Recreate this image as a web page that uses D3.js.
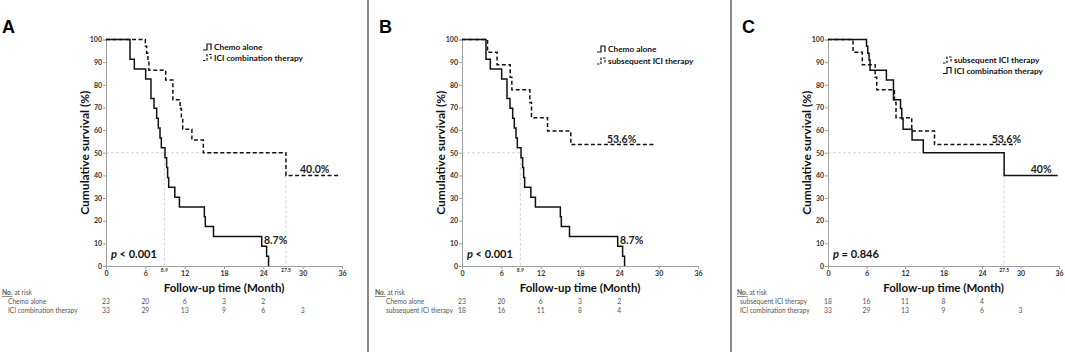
<!DOCTYPE html>
<html>
<head>
<meta charset="utf-8">
<script src="https://cdn.jsdelivr.net/npm/d3@7"></script>
<style>
  body { margin: 0; background: #fff; }
  svg { display: block; font-family: Lato, "Open Sans", sans-serif; }
</style>
</head>
<body>
<div id="chart"></div>
<script>
// --- data ---
const monthTicks = [0, 6, 12, 18, 24, 30, 36];
const survTicks = [0, 10, 20, 30, 40, 50, 60, 70, 80, 90, 100];

// Chemo alone (n = 23)
const chemoTime = [0, 3.66, 4.32, 6.05, 6.86, 7.32, 7.73, 7.98, 8.24, 8.44, 9.0, 9.25, 9.4, 9.56, 10.5, 11.2, 15.0, 15.15, 16.4, 23.75, 24.5, 24.8];
const chemoSurv = [100, 91.3, 87.0, 82.6, 73.9, 69.6, 65.2, 60.9, 56.5, 52.2, 47.8, 43.5, 39.1, 34.8, 30.4, 26.1, 21.7, 17.4, 13.0, 8.7, 4.3, 0];

// ICI combination therapy (n = 33)
const comboTime = [0, 6.0, 6.2, 6.4, 6.55, 9.1, 10.2, 11.3, 11.5, 11.7, 13.1, 14.85, 27.45, 35.8];
const comboSurv = [100, 97.0, 93.9, 90.9, 86.4, 82.1, 73.4, 69.5, 65.0, 60.4, 55.6, 50.0, 40.0, 40.0];

// subsequent ICI therapy (n = 18)
const subseqTime = [0, 3.9, 5.35, 7.35, 7.6, 10.35, 10.6, 13.05, 16.6, 29.3];
const subseqSurv = [100, 94.4, 88.9, 83.3, 77.8, 72.2, 65.5, 59.6, 53.6, 53.6];

// numbers at risk at 0, 6, 12, 18, 24, 30 months
const riskChemo = [23, 20, 6, 3, 2, null];
const riskCombo = [33, 29, 13, 9, 6, 3];
const riskSubseq = [18, 16, 11, 8, 4, null];

const panelLetters = ["A", "B", "C"];
const pValues = ["< 0.001", "< 0.001", "= 0.846"];

function zipCurve(t, s) { return t.map((d, i) => ({t: d, s: s[i]})); }

const chemo = {name: "Chemo alone", pts: zipCurve(chemoTime, chemoSurv), risk: riskChemo};
const combo = {name: "ICI combination therapy", pts: zipCurve(comboTime, comboSurv), risk: riskCombo};
const subseq = {name: "subsequent ICI therapy", pts: zipCurve(subseqTime, subseqSurv), risk: riskSubseq};

// layout per panel
const panels = [
  {letter: 0, lx: 2, x0: 106, x1: 342, curves: [[chemo, false], [combo, true]],
   medH: 27.45, medV: [[8.9, 50, "8.9"], [27.45, 40, "27.5"]],
   ends: [[chemo, "8.7%", 24.1, 8.7], [combo, "40.0%", 29.6, 40]],
   leg: {x: 203, y: 47, dy: 10.5}, tableX: 2, rowX: 8},
  {letter: 1, lx: 379, x0: 462, x1: 698, curves: [[chemo, false], [subseq, true]],
   medH: 8.9, medV: [[8.9, 50, "8.9"]],
   ends: [[chemo, "8.7%", 24.1, 8.7], [subseq, "53.6%", 22.1, 53.6]],
   leg: {x: 597, y: 49, dy: 12}, tableX: 375, rowX: 386},
  {letter: 2, lx: 742, x0: 828, x1: 1059, curves: [[subseq, true], [combo, false]],
   medH: 14.85, medV: [[27.45, 40, "27.5"]],
   ends: [[subseq, "53.6%", 25.5, 53.6], [combo, "40%", 31.6, 40]],
   leg: {x: 943, y: 60, dy: 10.5}, tableX: 737, rowX: 740}
];

const W = 1065, H = 354;
const yTop = 39.5, yBot = 266;

const svg = d3.select("#chart").append("svg")
  .attr("width", W)
  .attr("height", H);

// panel separators
[368, 731].forEach(x => {
  svg.append("line")
    .attr("x1", x).attr("x2", x)
    .attr("y1", 0).attr("y2", 352)
    .attr("stroke", "#8a8a8a")
    .attr("stroke-width", 2);
});

panels.forEach(p => {
  let g = svg.append("g");

  let x = d3.scaleLinear().domain([0, 36]).range([p.x0, p.x1]);
  let y = d3.scaleLinear().domain([0, 100]).range([yBot, yTop]);

  // panel letter
  g.append("text")
    .attr("x", p.lx).attr("y", 33)
    .style("font-family", "Liberation Sans, Arial, sans-serif")
    .style("font-size", "18px")
    .style("font-weight", "bold")
    .text(panelLetters[p.letter]);

  // median guide lines
  g.append("line")
    .attr("x1", x(0)).attr("x2", x(p.medH))
    .attr("y1", y(50)).attr("y2", y(50))
    .attr("stroke", "#c8c8c8").attr("stroke-width", 0.8)
    .attr("stroke-dasharray", "3,2");
  p.medV.forEach(m => {
    g.append("line")
      .attr("x1", x(m[0])).attr("x2", x(m[0]))
      .attr("y1", y(m[1])).attr("y2", y(0))
      .attr("stroke", "#c8c8c8").attr("stroke-width", 0.8)
      .attr("stroke-dasharray", "3,2");
    g.append("text")
      .attr("x", x(m[0])).attr("y", 272)
      .attr("text-anchor", "middle")
      .style("font-size", "5px")
      .style("font-weight", "bold")
      .attr("fill", "#333")
      .text(m[2]);
  });

  // axes
  let yAxis = d3.axisLeft(y).tickValues(survTicks).tickSize(3).tickPadding(1);
  let xAxis = d3.axisBottom(x).tickValues(monthTicks).tickSize(3).tickPadding(2);

  let ya = g.append("g").attr("transform", `translate(${p.x0},0)`).call(yAxis);
  let xa = g.append("g").attr("transform", `translate(0,${yBot})`).call(xAxis);
  [ya, xa].forEach(a => {
    a.select(".domain").attr("stroke", "#a0a0a0");
    a.selectAll(".tick line").attr("stroke", "#a0a0a0");
    a.selectAll(".tick text")
      .attr("fill", "#333")
      .style("font-family", "Lato, sans-serif")
      .style("font-size", "7px")
      .style("font-weight", "bold");
  });

  // axis titles
  g.append("text")
    .attr("transform", `translate(${p.x0 - 17},${(yTop + yBot) / 2}) rotate(-90)`)
    .attr("text-anchor", "middle")
    .style("font-size", "12px")
    .style("font-weight", "bold")
    .attr("fill", "#111")
    .text("Cumulative survival (%)");

  g.append("text")
    .attr("x", (p.x0 + p.x1) / 2).attr("y", 292)
    .attr("text-anchor", "middle")
    .style("font-size", "11.5px")
    .style("font-weight", "bold")
    .attr("fill", "#111")
    .text("Follow-up time (Month)");

  // KM curves
  let line = d3.line()
    .x(d => x(d.t))
    .y(d => y(d.s))
    .curve(d3.curveStepAfter);

  p.curves.forEach(c => {
    g.append("path")
      .datum(c[0].pts)
      .attr("d", line)
      .attr("fill", "none")
      .attr("stroke", "#111")
      .attr("stroke-width", 1.5)
      .attr("stroke-dasharray", c[1] ? "4,2.5" : null);
  });

  // end-of-curve labels
  p.ends.forEach(e => {
    g.append("text")
      .attr("x", x(e[2])).attr("y", y(e[3]) - 2)
      .style("font-size", "10.5px")
      .style("font-weight", "bold")
      .attr("fill", "#222")
      .text(e[1]);
  });

  // p value
  let pt = g.append("text")
    .attr("x", x(0) + 5).attr("y", 258)
    .style("font-size", "11px")
    .style("font-weight", "bold")
    .attr("fill", "#111");
  pt.append("tspan").style("font-style", "italic").text("p");
  pt.append("tspan").text(" " + pValues[p.letter]);

  // legend
  p.curves.forEach((c, i) => {
    let ly = p.leg.y + i * p.leg.dy;
    g.append("path")
      .attr("d", `M${p.leg.x},${ly + 3} h4 v-6 h4 v6`)
      .attr("fill", "none")
      .attr("stroke", "#111")
      .attr("stroke-width", 1.2)
      .attr("stroke-dasharray", c[1] ? "2.5,1.5" : null);
    g.append("text")
      .attr("x", p.leg.x + 11).attr("y", ly + 3)
      .style("font-size", "8.3px")
      .style("font-weight", "bold")
      .attr("fill", "#111")
      .text(c[0].name);
  });

  // number at risk table
  let head = g.append("text")
    .attr("x", p.tableX).attr("y", 295)
    .style("font-size", "6.7px")
    .attr("fill", "#555");
  head.append("tspan").style("text-decoration", "underline").style("font-weight", "bold").text("No.");
  head.append("tspan").text(" at risk");

  p.curves.forEach((c, i) => {
    let ry = 304 + i * 9;
    g.append("text")
      .attr("x", p.rowX).attr("y", ry)
      .style("font-size", "6.6px")
      .attr("fill", "#555")
      .text(c[0].name);
    g.selectAll(null)
      .data(c[0].risk.map((v, k) => ({v: v, t: monthTicks[k]})).filter(d => d.v !== null))
      .enter()
      .append("text")
      .attr("x", d => x(d.t))
      .attr("y", ry)
      .attr("text-anchor", "middle")
      .style("font-size", "6.8px")
      .attr("fill", "#555")
      .text(d => d.v);
  });
});
</script>
</body>
</html>
